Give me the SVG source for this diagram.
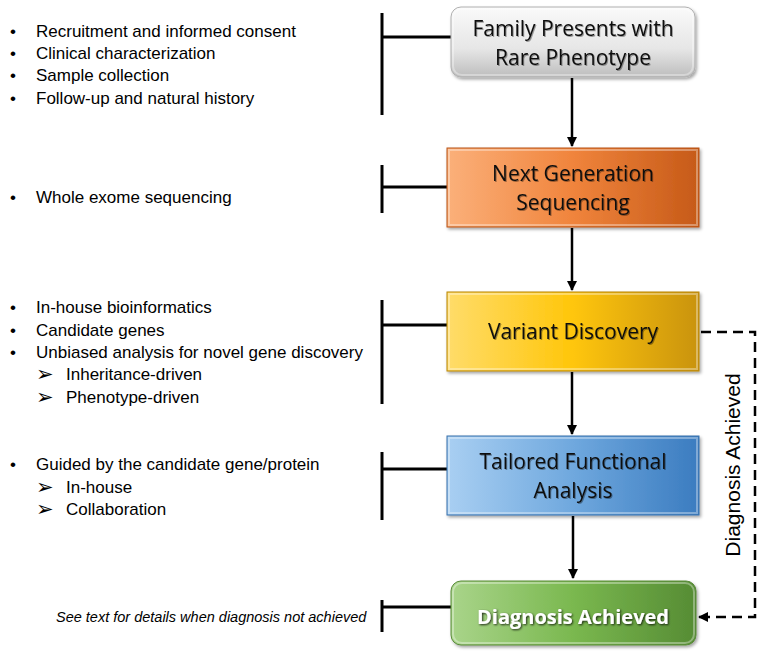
<svg xmlns="http://www.w3.org/2000/svg" width="760" height="655" viewBox="0 0 760 655">
<defs>
<linearGradient id="gGray" x1="0" y1="0" x2="0" y2="1"><stop offset="0" stop-color="#fafafa"/><stop offset="0.6" stop-color="#e6e6e6"/><stop offset="1" stop-color="#bdbdbd"/></linearGradient>
<linearGradient id="gOrange" x1="0" y1="0" x2="1" y2="0"><stop offset="0" stop-color="#fbb07a"/><stop offset="0.5" stop-color="#f0843c"/><stop offset="1" stop-color="#c65a18"/></linearGradient>
<linearGradient id="gYellow" x1="0" y1="0" x2="1" y2="0"><stop offset="0" stop-color="#ffdc6a"/><stop offset="0.5" stop-color="#ffc60a"/><stop offset="1" stop-color="#c99308"/></linearGradient>
<linearGradient id="gBlue" x1="0" y1="0" x2="1" y2="0"><stop offset="0" stop-color="#a9cff2"/><stop offset="0.5" stop-color="#6fa8de"/><stop offset="1" stop-color="#3b7cc0"/></linearGradient>
<linearGradient id="gGreen" x1="0" y1="0" x2="1" y2="0"><stop offset="0" stop-color="#a9d48a"/><stop offset="0.5" stop-color="#7ab84f"/><stop offset="1" stop-color="#568c34"/></linearGradient>
<filter id="sh" x="-10%" y="-10%" width="125%" height="130%"><feDropShadow dx="1.5" dy="2" stdDeviation="1.5" flood-color="#000" flood-opacity="0.35"/></filter>
<filter id="tsh" x="-10%" y="-20%" width="120%" height="150%"><feDropShadow dx="1" dy="1" stdDeviation="0.6" flood-color="#000" flood-opacity="0.35"/></filter>
<filter id="tsh2" x="-10%" y="-20%" width="120%" height="150%"><feDropShadow dx="1" dy="1" stdDeviation="0.8" flood-color="#000" flood-opacity="0.8"/></filter>
<marker id="ah" viewBox="0 0 10 10" refX="9" refY="5" markerWidth="4" markerHeight="4" orient="auto"><path d="M0,0 L10,5 L0,10 z" fill="#000"/></marker>
</defs>
<style>
.lt{font-family:"Liberation Sans",Arial,sans-serif;font-size:17px;fill:#000}
.sb{font-family:"DejaVu Sans",sans-serif;font-size:21px;fill:#000}
.it{font-family:"Liberation Sans",Arial,sans-serif;font-size:14.5px;font-style:italic;fill:#000}
.nt{font-family:"Open Sans","Liberation Sans",sans-serif;font-size:21px;fill:#111;text-anchor:middle}
.ntw{font-family:"Open Sans","Liberation Sans",sans-serif;font-size:20px;font-weight:bold;fill:#fff;text-anchor:middle}
.br{stroke:#000;stroke-width:3;fill:none}
.ar{stroke:#000;stroke-width:2.5;fill:none}
.ds{stroke:#000;stroke-width:2.5;fill:none;stroke-dasharray:10,6}
.bev{fill:none;stroke:#fff;stroke-opacity:0.35;stroke-width:2}
</style>

<g id="connectors">
<line class="br" x1="382" y1="13" x2="382" y2="115"/><line class="br" x1="382" y1="37" x2="451" y2="37"/>
<line class="br" x1="382" y1="165" x2="382" y2="213"/><line class="br" x1="382" y1="187" x2="447" y2="187"/>
<line class="br" x1="382" y1="300" x2="382" y2="404"/><line class="br" x1="382" y1="325" x2="447" y2="325"/>
<line class="br" x1="382" y1="452" x2="382" y2="520"/><line class="br" x1="382" y1="469" x2="447" y2="469"/>
<line class="br" x1="382" y1="600" x2="382" y2="632"/><line class="br" x1="382" y1="607" x2="451" y2="607"/>
<line class="ar" x1="572" y1="78" x2="572" y2="146" marker-end="url(#ah)"/>
<line class="ar" x1="572" y1="228" x2="572" y2="290" marker-end="url(#ah)"/>
<line class="ar" x1="572" y1="372" x2="572" y2="434" marker-end="url(#ah)"/>
<line class="ar" x1="573" y1="516" x2="573" y2="578" marker-end="url(#ah)"/>
<polyline class="ds" points="701,332 755,332 755,617 708,617"/>
<line class="ar" x1="706" y1="617" x2="699" y2="617" marker-end="url(#ah)"/>
<text class="lt" style="font-size:21px" transform="translate(740,465) rotate(-90)" text-anchor="middle">Diagnosis Achieved</text>
</g>

<g id="n1">
<rect x="451" y="7" width="244" height="70" rx="10" fill="url(#gGray)" stroke="#b0b0b0" stroke-width="1" filter="url(#sh)"/>
<rect x="453" y="9" width="240" height="66" rx="9" class="bev" stroke-opacity="0.8"/>
<text class="nt" x="573" y="36" filter="url(#tsh)">Family Presents with</text>
<text class="nt" x="573" y="65" filter="url(#tsh)">Rare Phenotype</text>
</g>
<g id="n2">
<rect x="447" y="148" width="252" height="79" fill="url(#gOrange)" stroke="#b85518" stroke-width="1" filter="url(#sh)"/>
<rect x="449" y="150" width="248" height="75" class="bev"/>
<text class="nt" x="573" y="181" filter="url(#tsh)">Next Generation</text>
<text class="nt" x="573" y="210" filter="url(#tsh)">Sequencing</text>
</g>
<g id="n3">
<rect x="447" y="292" width="252" height="79" fill="url(#gYellow)" stroke="#b8860a" stroke-width="1" filter="url(#sh)"/>
<rect x="449" y="294" width="248" height="75" class="bev"/>
<text class="nt" x="573" y="339" filter="url(#tsh)">Variant Discovery</text>
</g>
<g id="n4">
<rect x="447" y="436" width="252" height="79" fill="url(#gBlue)" stroke="#3a72ac" stroke-width="1" filter="url(#sh)"/>
<rect x="449" y="438" width="248" height="75" class="bev"/>
<text class="nt" x="573" y="469" filter="url(#tsh)">Tailored Functional</text>
<text class="nt" x="573" y="498" filter="url(#tsh)">Analysis</text>
</g>
<g id="n5">
<rect x="451" y="581" width="245" height="64" rx="10" fill="url(#gGreen)" stroke="#5a8a3a" stroke-width="1" filter="url(#sh)"/>
<rect x="453" y="583" width="241" height="60" rx="9" class="bev"/>
<text class="ntw" x="573" y="624" filter="url(#tsh2)">Diagnosis Achieved</text>
</g>

<g id="notes">
<text class="lt" x="10" y="37">•</text><text class="lt" x="36" y="37">Recruitment and informed consent</text>
<text class="lt" x="10" y="59">•</text><text class="lt" x="36" y="59">Clinical characterization</text>
<text class="lt" x="10" y="81">•</text><text class="lt" x="36" y="81">Sample collection</text>
<text class="lt" x="10" y="104">•</text><text class="lt" x="36" y="104">Follow-up and natural history</text>

<text class="lt" x="10" y="203">•</text><text class="lt" x="36" y="203">Whole exome sequencing</text>

<text class="lt" x="10" y="313">•</text><text class="lt" x="36" y="313">In-house bioinformatics</text>
<text class="lt" x="10" y="336">•</text><text class="lt" x="36" y="336">Candidate genes</text>
<text class="lt" x="10" y="358">•</text><text class="lt" x="36" y="358">Unbiased analysis for novel gene discovery</text>
<text class="sb" x="36" y="381">➢</text><text class="lt" x="66" y="380">Inheritance-driven</text>
<text class="sb" x="36" y="404">➢</text><text class="lt" x="66" y="403">Phenotype-driven</text>

<text class="lt" x="10" y="470">•</text><text class="lt" x="36" y="470">Guided by the candidate gene/protein</text>
<text class="sb" x="36" y="494">➢</text><text class="lt" x="66" y="493">In-house</text>
<text class="sb" x="36" y="516">➢</text><text class="lt" x="66" y="515">Collaboration</text>

<text class="it" x="56" y="622">See text for details when diagnosis not achieved</text>
</g>
</svg>
